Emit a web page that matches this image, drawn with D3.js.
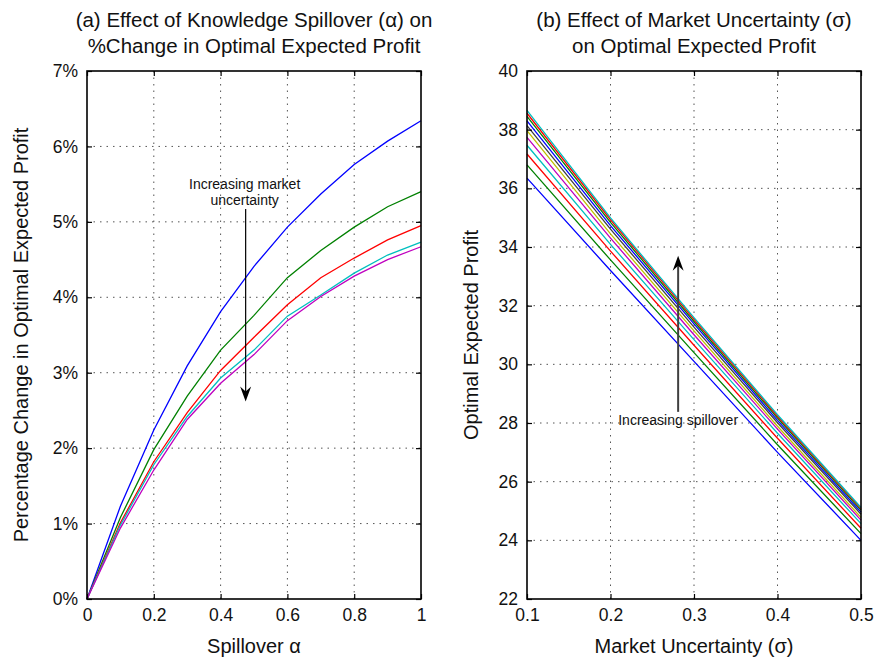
<!DOCTYPE html>
<html>

<head>
  <meta charset="utf-8">
  <script src="https://d3js.org/d3.v7.min.js"></script>
  <style>
    body {
      margin: 0;
      background: #fff;
    }

    svg text {
      font-family: "Liberation Sans", Arial, Helvetica, sans-serif;
      fill: #111;
    }
  </style>
</head>

<body>
  <svg id="chart"></svg>
</body>

<script>
  // (a) % change in optimal expected profit vs spillover, one curve per sigma
  const alphas = [0, 0.1, 0.2, 0.3, 0.4, 0.5, 0.6, 0.7, 0.8, 0.9, 1.0]
  const pctSigma01 = [0, 1.23, 2.24, 3.09, 3.81, 4.41, 4.93, 5.37, 5.76, 6.07, 6.34]
  const pctSigma02 = [0, 1.08, 1.98, 2.69, 3.30, 3.76, 4.26, 4.62, 4.93, 5.20, 5.40]
  const pctSigma03 = [0, 1.01, 1.82, 2.47, 3.03, 3.47, 3.90, 4.26, 4.52, 4.76, 4.95]
  const pctSigma04 = [0, 0.98, 1.78, 2.42, 2.93, 3.30, 3.75, 4.03, 4.32, 4.56, 4.73]
  const pctSigma05 = [0, 0.94, 1.71, 2.38, 2.86, 3.24, 3.69, 4.01, 4.28, 4.50, 4.67]
  const pctTicks = [0, 1, 2, 3, 4, 5, 6, 7]
  const alphaTicks = [0, 0.2, 0.4, 0.6, 0.8, 1]

  // (b) optimal expected profit vs sigma, one line per spillover value
  const sigmas = [0.1, 0.2, 0.3, 0.4, 0.5]
  const profitAlpha00 = [36.35, 33.20, 30.10, 27.00, 24.00]
  const profitAlpha01 = [36.80, 33.56, 30.40, 27.26, 24.23]
  const profitAlpha02 = [37.17, 33.86, 30.65, 27.48, 24.41]
  const profitAlpha03 = [37.47, 34.09, 30.84, 27.65, 24.57]
  const profitAlpha04 = [37.74, 34.30, 31.01, 27.79, 24.69]
  const profitAlpha05 = [37.97, 34.45, 31.14, 27.89, 24.78]
  const profitAlpha06 = [38.14, 34.61, 31.27, 28.01, 24.89]
  const profitAlpha07 = [38.30, 34.73, 31.38, 28.09, 24.96]
  const profitAlpha08 = [38.45, 34.84, 31.46, 28.17, 25.03]
  const profitAlpha09 = [38.56, 34.93, 31.53, 28.23, 25.08]
  const profitAlpha10 = [38.66, 34.99, 31.59, 28.28, 25.12]
  const profitTicks = [22, 24, 26, 28, 30, 32, 34, 36, 38, 40]
  const sigmaTicks = [0.1, 0.2, 0.3, 0.4, 0.5]

  // matlab default colour order
  const colorOrder = ["#0000ff", "#008000", "#ff0000", "#00bfbf", "#bf00bf", "#bfbf00", "#404040"]

  const W = 876, H = 661
  const svg = d3.select("#chart").attr("width", W).attr("height", H)

  const plotTop = 71, plotBottom = 599

  function drawPanel(opts) {
    const x = d3.scaleLinear().domain(opts.xDomain).range([opts.left, opts.right])
    const y = d3.scaleLinear().domain(opts.yDomain).range([plotBottom, plotTop])
    const g = svg.append("g")

    // dotted grid
    g.append("g").selectAll("line")
      .data(opts.xTicks.slice(1, -1))
      .join("line")
      .attr("x1", d => x(d)).attr("x2", d => x(d))
      .attr("y1", plotTop).attr("y2", plotBottom)
      .attr("stroke", "#555").attr("stroke-width", 1)
      .attr("stroke-dasharray", "1.5,5")
    g.append("g").selectAll("line")
      .data(opts.yTicks.slice(1, -1))
      .join("line")
      .attr("x1", opts.left).attr("x2", opts.right)
      .attr("y1", d => y(d)).attr("y2", d => y(d))
      .attr("stroke", "#555").attr("stroke-width", 1)
      .attr("stroke-dasharray", "1.5,5")

    // series
    const line = d3.line()
      .x(d => x(d[0]))
      .y(d => y(d[1]))
    g.append("g").selectAll("path")
      .data(opts.series)
      .join("path")
      .attr("d", s => line(opts.xValues.map((v, i) => [v, s[i]])))
      .attr("fill", "none")
      .attr("stroke", (s, i) => colorOrder[i % colorOrder.length])
      .attr("stroke-width", 1.3)

    // axes, ticks inside on all four sides (box on)
    const tickLen = 5
    g.append("g")
      .attr("transform", `translate(0, ${plotBottom})`)
      .call(d3.axisBottom(x).tickValues(opts.xTicks).tickFormat(opts.xFormat).tickSize(-tickLen).tickPadding(10))
    g.append("g")
      .attr("transform", `translate(0, ${plotTop})`)
      .call(d3.axisTop(x).tickValues(opts.xTicks).tickFormat("").tickSize(-tickLen))
    g.append("g")
      .attr("transform", `translate(${opts.left}, 0)`)
      .call(d3.axisLeft(y).tickValues(opts.yTicks).tickFormat(opts.yFormat).tickSize(-tickLen).tickPadding(9))
    g.append("g")
      .attr("transform", `translate(${opts.right}, 0)`)
      .call(d3.axisRight(y).tickValues(opts.yTicks).tickFormat("").tickSize(-tickLen))
    g.selectAll(".domain").remove()
    g.selectAll(".tick line").attr("stroke", "#000").attr("stroke-width", 1.2)
    g.selectAll(".tick text").style("font-size", "17.5px").attr("fill", "#111")

    g.append("rect")
      .attr("x", opts.left).attr("y", plotTop)
      .attr("width", opts.right - opts.left).attr("height", plotBottom - plotTop)
      .attr("fill", "none").attr("stroke", "#000").attr("stroke-width", 1.6)

    // titles and labels
    const cx = (opts.left + opts.right) / 2
    g.append("text")
      .attr("x", cx).attr("y", 27)
      .attr("text-anchor", "middle")
      .style("font-size", "20.5px")
      .text(opts.title[0])
    g.append("text")
      .attr("x", cx).attr("y", 53)
      .attr("text-anchor", "middle")
      .style("font-size", "20.5px")
      .text(opts.title[1])
    g.append("text")
      .attr("x", cx).attr("y", 653)
      .attr("text-anchor", "middle")
      .style("font-size", "20px")
      .text(opts.xLabel)
    g.append("text")
      .attr("transform", `translate(${opts.yLabelX}, ${(plotTop + plotBottom) / 2}) rotate(-90)`)
      .attr("text-anchor", "middle")
      .style("font-size", "20px")
      .text(opts.yLabel)

    return { g, x, y }
  }

  function arrow(g, x1, y1, x2, y2, color, width) {
    g.append("line")
      .attr("x1", x1).attr("y1", y1).attr("x2", x2).attr("y2", y2 + (y2 > y1 ? -8 : 8))
      .attr("stroke", color).attr("stroke-width", width)
    const dir = y2 > y1 ? 1 : -1
    g.append("path")
      .attr("d", `M0,0 L-5.5,${-15 * dir} L0,${-10 * dir} L5.5,${-15 * dir} Z`)
      .attr("transform", `translate(${x2}, ${y2})`)
      .attr("fill", "#000")
  }

  const a = drawPanel({
    left: 87, right: 421,
    xDomain: [0, 1], yDomain: [0, 7],
    xTicks: alphaTicks, yTicks: pctTicks,
    xFormat: d3.format("~g"), yFormat: d => d + "%",
    xValues: alphas,
    series: [pctSigma01, pctSigma02, pctSigma03, pctSigma04, pctSigma05],
    title: ["(a) Effect of Knowledge Spillover (\u03b1) on", "%Change in Optimal Expected Profit"],
    xLabel: "Spillover \u03b1",
    yLabel: "Percentage Change in Optimal Expected Profit",
    yLabelX: 28
  })

  const b = drawPanel({
    left: 527, right: 861,
    xDomain: [0.1, 0.5], yDomain: [22, 40],
    xTicks: sigmaTicks, yTicks: profitTicks,
    xFormat: d3.format(".1f"), yFormat: d3.format("d"),
    xValues: sigmas,
    series: [profitAlpha00, profitAlpha01, profitAlpha02, profitAlpha03, profitAlpha04, profitAlpha05,
      profitAlpha06, profitAlpha07, profitAlpha08, profitAlpha09, profitAlpha10],
    title: ["(b) Effect of Market Uncertainty (\u03c3)", "on Optimal Expected Profit"],
    xLabel: "Market Uncertainty (\u03c3)",
    yLabel: "Optimal Expected Profit",
    yLabelX: 478
  })

  // annotations
  a.g.append("text")
    .attr("x", a.x(0.472)).attr("y", 189)
    .attr("text-anchor", "middle")
    .style("font-size", "14px")
    .text("Increasing market")
  a.g.append("text")
    .attr("x", a.x(0.472)).attr("y", 205)
    .attr("text-anchor", "middle")
    .style("font-size", "14px")
    .text("uncertainty")
  arrow(a.g, a.x(0.475), a.y(5.17), a.x(0.475), a.y(2.62), "#000", 1.2)

  arrow(b.g, b.x(0.281), b.y(28.38), b.x(0.281), b.y(33.7), "#404040", 2)
  b.g.append("text")
    .attr("x", b.x(0.281)).attr("y", 425)
    .attr("text-anchor", "middle")
    .style("font-size", "14px")
    .text("Increasing spillover")
</script>

</html>
